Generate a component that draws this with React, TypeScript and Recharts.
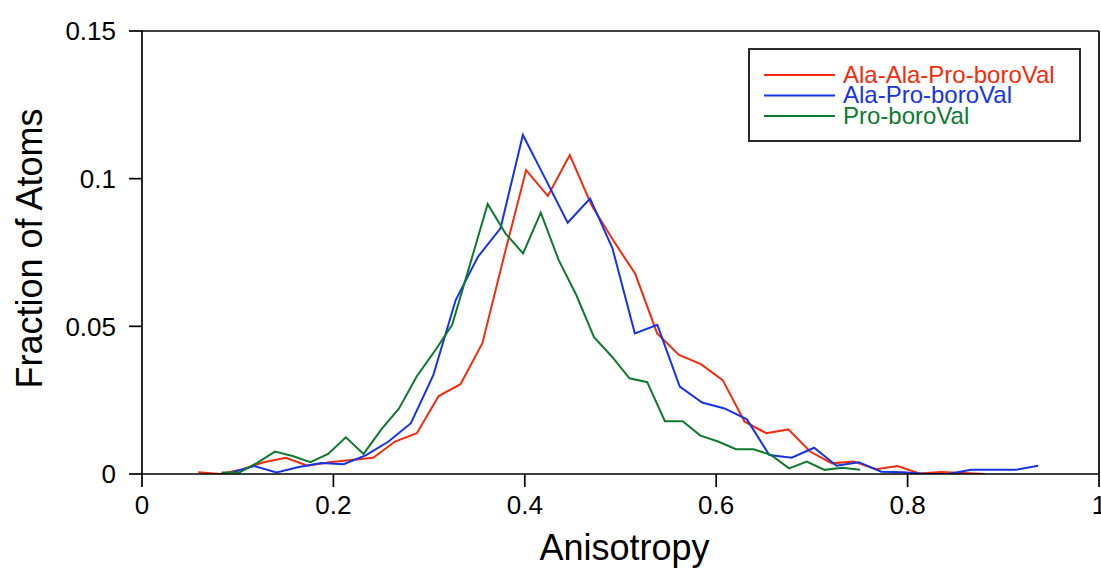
import { LineChart, Line, XAxis, YAxis, Legend } from "recharts";

const FONT = "'Liberation Sans', Arial, Helvetica, sans-serif";

const xTicks = [0, 0.2, 0.4, 0.6, 0.8, 1];
const xTickLabels = ["0", "0.2", "0.4", "0.6", "0.8", "1"];
const yTicks = [0, 0.05, 0.1, 0.15];
const yTickLabels = ["0", "0.05", "0.1", "0.15"];

const seriesNames = ["Ala-Ala-Pro-boroVal", "Ala-Pro-boroVal", "Pro-boroVal"];
const seriesColors = ["#f22c0c", "#1634e6", "#0f7a2e"];

// Ala-Ala-Pro-boroVal
const redX = [
  0.0588, 0.0817, 0.1045, 0.1274, 0.1502, 0.173, 0.1958, 0.2187, 0.2415, 0.2644,
  0.2872, 0.31, 0.3328, 0.3557, 0.3785, 0.4014, 0.4241, 0.447, 0.4698, 0.4927,
  0.5155, 0.5383, 0.5611, 0.584, 0.6068, 0.6297, 0.6524, 0.6753, 0.6981, 0.721,
  0.7438, 0.7667, 0.7895, 0.8123, 0.8351, 0.858, 0.8808,
];
const redY = [
  0.0006, 0.0, 0.0015, 0.004, 0.0055, 0.0028, 0.004, 0.0047, 0.0055, 0.011,
  0.0138, 0.0264, 0.0304, 0.0443, 0.074, 0.1029, 0.0941, 0.108, 0.091, 0.079,
  0.0677, 0.0476, 0.0403, 0.0372, 0.0318, 0.0177, 0.0138, 0.0151, 0.0076, 0.0036,
  0.0042, 0.0016, 0.0027, 0.0002, 0.0007, 0.0003, 0.0,
];

// Ala-Pro-boroVal
const blueX = [
  0.0937, 0.1171, 0.1405, 0.164, 0.1874, 0.2108, 0.2342, 0.2576, 0.281, 0.3044,
  0.3278, 0.3512, 0.3746, 0.398, 0.4214, 0.4448, 0.4682, 0.4916, 0.515, 0.5385,
  0.5619, 0.5853, 0.6087, 0.6321, 0.6555, 0.6789, 0.7023, 0.7257, 0.7491, 0.7725,
  0.7959, 0.8193, 0.8427, 0.8662, 0.8896, 0.913, 0.9364,
];
const blueY = [
  0.0005, 0.0027, 0.0005, 0.0024, 0.0037, 0.0033, 0.0064, 0.011, 0.0172, 0.0335,
  0.0589, 0.0736, 0.0832, 0.1148, 0.1, 0.0851, 0.0933, 0.0764, 0.0476, 0.0505,
  0.0296, 0.0242, 0.0222, 0.0185, 0.0064, 0.0055, 0.0089, 0.0028, 0.004, 0.0008,
  0.0006, 0.0, 0.0, 0.0014, 0.0014, 0.0014, 0.0028,
];

// Pro-boroVal
const greenX = [
  0.0833, 0.1018, 0.1204, 0.1389, 0.1574, 0.176, 0.1945, 0.213, 0.2315, 0.2501,
  0.2686, 0.287, 0.3056, 0.3241, 0.3426, 0.3612, 0.3797, 0.3982, 0.4167, 0.4353,
  0.4538, 0.4723, 0.4909, 0.5094, 0.5279, 0.5464, 0.565, 0.5835, 0.602, 0.6206,
  0.6391, 0.6576, 0.6761, 0.6947, 0.7132, 0.7317, 0.7503,
];
const greenY = [
  0.0005, 0.0005, 0.0038, 0.0076, 0.0061, 0.004, 0.0068, 0.0124, 0.0068, 0.0151,
  0.0222, 0.033, 0.0415, 0.0505, 0.0708, 0.0914, 0.0815, 0.0747, 0.0885, 0.0725,
  0.0606, 0.0463, 0.0398, 0.0324, 0.0311, 0.0179, 0.0179, 0.013, 0.011, 0.0084,
  0.0084, 0.0064, 0.0019, 0.0042, 0.0014, 0.0021, 0.0014,
];

const toPoints = (xs: number[], ys: number[]) => xs.map((x, i) => ({ x, y: ys[i] }));

const seriesData = [toPoints(redX, redY), toPoints(blueX, blueY), toPoints(greenX, greenY)];

const axisStroke = { stroke: "#000", strokeWidth: 1.7 };

function LegendBox(props: any) {
  const payload = props.payload || [];
  return (
    <svg width={333} height={94} style={{ display: "block" }}>
      <rect x={1} y={1} width={331} height={92} fill="#fff" stroke="#2a2a2a" strokeWidth={2} />
      {payload.map((p: any, i: number) => (
        <g key={p.value}>
          <line x1={16} x2={87} y1={27 + i * 20.5} y2={27 + i * 20.5} stroke={p.color} strokeWidth={2} />
          <text x={95} y={34.5 + i * 20.5} fill={p.color} fontSize={24} fontFamily={FONT}>
            {p.value}
          </text>
        </g>
      ))}
    </svg>
  );
}

const XTitle = (props: any) => {
  const vb = props.viewBox;
  return (
    <text x={vb.x + vb.width / 2 + 4} y={vb.y + vb.height - 12} textAnchor="middle" fontSize={36} fontFamily={FONT} fill="#000">
      Anisotropy
    </text>
  );
};

const YTitle = (props: any) => {
  const vb = props.viewBox;
  const cx = 42;
  const cy = vb.y + vb.height / 2 - 4;
  return (
    <text x={cx} y={cy} transform={`rotate(-90, ${cx}, ${cy})`} textAnchor="middle" fontSize={36} fontFamily={FONT} fill="#000">
      Fraction of Atoms
    </text>
  );
};

export default function App() {
  return (
    <div style={{ width: 1101, height: 572, fontFamily: FONT }}>
      <style>{"body{margin:0;overflow:hidden;background:#fff}"}</style>
      <LineChart width={1101} height={572} margin={{ top: 0, right: 0, bottom: 0, left: 0 }}>
        <XAxis
          xAxisId="bottom"
          dataKey="x"
          type="number"
          domain={[0, 1]}
          ticks={xTicks}
          tickFormatter={(v: number) => xTickLabels[xTicks.indexOf(v)] ?? String(v)}
          height={98}
          tickSize={13}
          tickMargin={9}
          tick={{ fill: "#000", fontSize: 26, fontFamily: FONT }}
          tickLine={axisStroke}
          axisLine={axisStroke}
          interval={0}
          allowDataOverflow
          label={{ content: XTitle }}
        />
        <XAxis
          xAxisId="top"
          orientation="top"
          dataKey="x"
          type="number"
          domain={[0, 1]}
          ticks={xTicks}
          height={31}
          tickSize={13}
          tick={false}
          tickLine={axisStroke}
          axisLine={axisStroke}
          interval={0}
        />
        <YAxis
          yAxisId="left"
          type="number"
          domain={[0, 0.15]}
          ticks={yTicks}
          tickFormatter={(v: number) => yTickLabels[yTicks.indexOf(v)] ?? String(v)}
          width={142}
          tickSize={13}
          tickMargin={13}
          tick={{ fill: "#000", fontSize: 26, fontFamily: FONT }}
          tickLine={axisStroke}
          axisLine={axisStroke}
          interval={0}
          allowDataOverflow
          label={{ content: YTitle }}
        />
        <YAxis
          yAxisId="right"
          orientation="right"
          type="number"
          domain={[0, 0.15]}
          ticks={yTicks}
          width={2}
          tickSize={13}
          tick={false}
          tickLine={axisStroke}
          axisLine={axisStroke}
          interval={0}
        />
        <Legend
          layout="horizontal"
          verticalAlign="middle"
          align="center"
          content={LegendBox}
          wrapperStyle={{ position: "absolute", left: 748, top: 48, width: 333, height: 94 }}
        />
        {seriesNames.map((name, i) => (
          <Line
            key={name}
            name={name}
            data={seriesData[i]}
            dataKey="y"
            xAxisId="bottom"
            yAxisId="left"
            type="linear"
            stroke={seriesColors[i]}
            strokeWidth={2}
            dot={false}
            activeDot={false}
            isAnimationActive={false}
          />
        ))}
      </LineChart>
    </div>
  );
}
